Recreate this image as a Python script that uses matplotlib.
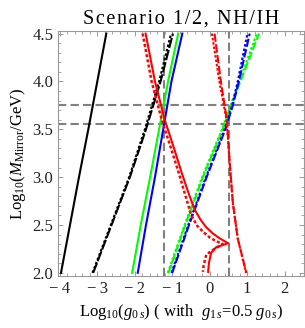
import matplotlib
matplotlib.use("Agg")
import matplotlib.pyplot as plt
from matplotlib.ticker import MultipleLocator, FuncFormatter

plt.rcParams['font.family'] = ['Liberation Serif', 'DejaVu Serif']
plt.rcParams['mathtext.fontset'] = 'custom'
plt.rcParams['mathtext.rm'] = 'Liberation Serif'
plt.rcParams['mathtext.it'] = 'Liberation Serif:italic'

# ---- data ----
y_left = [2.0, 2.5, 3.0, 3.5, 4.0, 4.5]
x_black_solid = [-3.97, -3.73, -3.49, -3.24, -3.00, -2.76]
x_black_dashed = [-3.11, -2.62, -2.13, -1.70, -1.31, -0.98]
x_black_dotted = [-3.13, -2.64, -2.15, -1.73, -1.35, -1.03]
x_green_solid = [-2.07, -1.84, -1.59, -1.35, -1.11, -0.84]
x_blue_solid = [-1.92, -1.70, -1.46, -1.24, -1.02, -0.73]

y_right = [2.0, 2.5, 3.0, 3.5, 3.75, 4.0, 4.5]
x_green_dashed = [-1.10, -0.65, -0.18, 0.35, 0.58, 0.82, 1.32]
x_green_dotted = [-1.12, -0.67, -0.20, 0.33, 0.56, 0.79, 1.26]
x_blue_dashed = [-1.00, -0.55, -0.08, 0.42, 0.62, 0.78, 1.07]
x_blue_dotted = [-1.02, -0.57, -0.10, 0.40, 0.60, 0.75, 1.01]

x_red_solid = [-1.71, -1.46, -1.20, -0.95, -0.75, -0.57, -0.40, -0.25, -0.10, 0.09, 0.27, 0.40, 0.49,
               0.35, 0.18, 0.04, -0.02, -0.04]
y_red_solid = [4.50, 4.00, 3.60, 3.30, 3.05, 2.84, 2.66, 2.56, 2.48, 2.41, 2.36, 2.33, 2.31,
               2.29, 2.27, 2.21, 2.10, 2.01]
x_red_dotted = [-1.79, -1.55, -1.28, -1.03, -0.83, -0.65, -0.49, -0.33, -0.15, 0.00, 0.18, 0.35,
                0.22, 0.09, -0.09, -0.16, -0.18]
y_red_dotted = [4.50, 4.00, 3.60, 3.30, 3.05, 2.81, 2.60, 2.49, 2.42, 2.37, 2.33, 2.30,
                2.27, 2.24, 2.19, 2.08, 2.01]

y_red_right = [4.5, 4.0, 3.6, 3.18, 2.73, 2.36, 2.0]
x_red_dashed = [0.13, 0.30, 0.46, 0.53, 0.62, 0.75, 0.98]
x_red_dotted_r = [0.06, 0.26, 0.45, 0.53, 0.62, 0.75, 0.97]

h_levels = [3.56, 3.75]
v_levels = [-1.22, 0.51]

title_text = 'Scenario 1/2, NH/IH'

# ---- figure ----
fig = plt.figure(figsize=(3.05, 3.28), dpi=100)
ax = fig.add_axes([58/305, 1-275.7/328, (304-58)/305, (275.7-30.7)/328])

lw = 1.5
gray = '#808080'
for h in h_levels:
    ax.axhline(h, color=gray, lw=lw, dashes=(4, 2), zorder=1)
for v in v_levels:
    ax.axvline(v, color=gray, lw=lw, dashes=(4, 2), zorder=1)

ax.plot(x_black_solid, y_left, color='black', lw=lw, zorder=3)
ax.plot(x_black_dotted, y_left, color='black', lw=lw, dashes=(1.2, 1), zorder=3)
ax.plot(x_black_dashed, y_left, color='black', lw=lw, dashes=(5, 1), zorder=3)
ax.plot(x_green_solid, y_left, color='#00ff00', lw=lw, zorder=3)
ax.plot(x_blue_solid, y_left, color='#0000ff', lw=lw, zorder=3)

ax.plot(x_green_dotted, y_right, color='#00ff00', lw=lw, dashes=(1.2, 1), zorder=3)
ax.plot(x_green_dashed, y_right, color='#00ff00', lw=lw, dashes=(4, 1.2), zorder=3)
ax.plot(x_blue_dotted, y_right, color='#0000ff', lw=lw, dashes=(1.2, 1), zorder=3)
ax.plot(x_blue_dashed, y_right, color='#0000ff', lw=lw, dashes=(4, 1.2), zorder=3)

ax.plot(x_red_solid, y_red_solid, color='#ff0000', lw=lw, zorder=3)
ax.plot(x_red_dotted, y_red_dotted, color='#ff0000', lw=lw + 0.3, dashes=(1.2, 0.9), zorder=3)
ax.plot(x_red_dotted_r, y_red_right, color='#ff0000', lw=lw, dashes=(1.2, 0.9), zorder=3)
ax.plot(x_red_dashed, y_red_right, color='#ff0000', lw=lw, dashes=(4, 1.2), zorder=3)

ax.set_xlim(-4.05, 2.52)
ax.set_ylim(1.97, 4.53)
ax.xaxis.set_major_locator(MultipleLocator(1))
ax.xaxis.set_minor_locator(MultipleLocator(0.2))
ax.yaxis.set_major_locator(MultipleLocator(0.5))
ax.yaxis.set_minor_locator(MultipleLocator(0.1))
ax.yaxis.set_major_formatter(FuncFormatter(lambda v, p: f'{v:.1f}'))
ax.xaxis.set_major_formatter(FuncFormatter(lambda v, p: ('\u2212\u2009' + f'{abs(v):.0f}') if v < -0.5 else f'{v:.0f}'))
ax.tick_params(which='both', direction='in', top=True, right=True, color='#999999',
               labelsize=12, labelcolor='#222222')
ax.tick_params(which='major', length=3.5, width=0.7)
ax.tick_params(which='minor', length=2, width=0.6)
for s in ax.spines.values():
    s.set_color('#999999')
    s.set_linewidth(0.8)

ax.set_title('\u200a'.join(title_text), fontsize=14.5, pad=5)
ax.set_xlabel(r'Log$_{10}$($g_{0\,s}$) ( with  $g_{1\,s}$=0.5 $g_{0\,s}$)', fontsize=12, labelpad=4)
ax.set_ylabel(r'Log$_{10}$($M_{\rm Mirror}$/GeV)', fontsize=12, labelpad=3)

fig.savefig('out.png', dpi=100)
